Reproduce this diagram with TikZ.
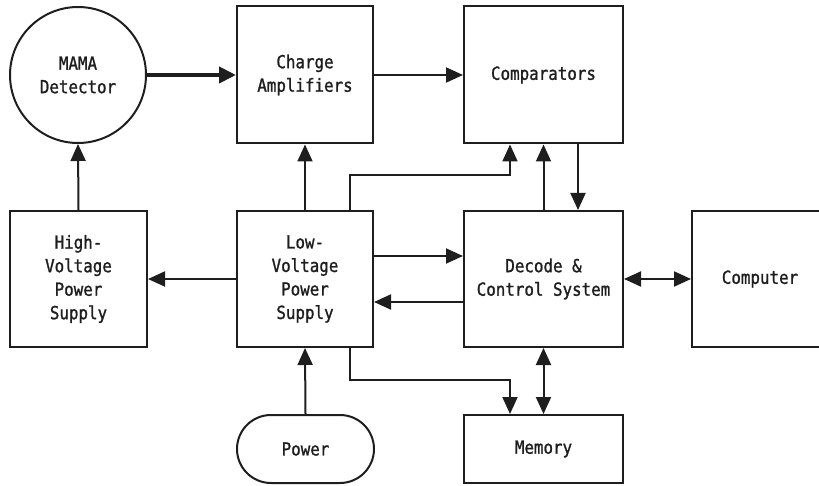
\documentclass[tikz,border=0pt]{standalone}
\usepackage{fontspec}
\newfontfamily\diagfont{DejaVu Sans Mono}[FakeStretch=0.88,FakeBold=1.2]
\usetikzlibrary{arrows.meta,shapes.misc}
\definecolor{ink}{HTML}{1E1E1E}
\begin{document}
\begin{tikzpicture}[x=1pt,y=-1pt,
  every node/.style={font=\diagfont\fontsize{18}{23.5}\selectfont, text=ink, align=center},
  blk/.style={draw=ink, line width=2pt, rectangle, inner sep=0pt},
  arr/.style={draw=ink, line width=2pt, -{Triangle[length=17pt,width=15pt]}},
  darr/.style={draw=ink, line width=2pt, {Triangle[length=17pt,width=15pt]}-{Triangle[length=17pt,width=15pt]}},
  thickarr/.style={draw=ink, line width=4pt, -{Triangle[length=17pt,width=16pt]}}]
\useasboundingbox (0,0) rectangle (819,486);
\clip (0,0) rectangle (819,486);
\node[draw=ink, line width=2pt, circle, minimum size=136pt, inner sep=0pt] (mama) at (78,75) {MAMA\\Detector};
\node[blk, minimum width=136pt, minimum height=137pt] (amp) at (305,75) {Charge\\Amplifiers};
\node[blk, minimum width=159pt, minimum height=137pt] (comp) at (543.5,75) {Comparators};
\node[blk, minimum width=137pt, minimum height=136pt] (hv) at (78.5,279) {High-\\Voltage\\Power\\Supply};
\node[blk, minimum width=136pt, minimum height=136pt] (lv) at (305,279) {Low-\\Voltage\\Power\\Supply};
\node[blk, minimum width=159pt, minimum height=136pt] (dec) at (543.5,279) {Decode \&\\Control System};
\node[blk, minimum width=136pt, minimum height=136pt] (pc) at (760,279) {Computer};
\node[blk, minimum width=159pt, minimum height=68pt] (mem) at (543.5,449) {Memory};
\node[draw=ink, line width=2pt, rounded rectangle, minimum width=137pt, minimum height=68pt, inner sep=0pt] (pow) at (305.5,449) {Power};
% connectors
\draw[thickarr] (mama.east) -- (amp.west);
\draw[arr] (amp.east) -- (comp.west);
\draw[arr] (hv.north) -- (mama.south);
\draw[arr] (lv.north) -- (amp.south);
\draw[arr] (lv.west) -- (hv.east);
\draw[arr] (pow.north) -- (lv.south);
\draw[arr] ([xshift=45pt]lv.north) -- ++(0,-35) -| ([xshift=-33.5pt]comp.south);
\draw[arr] (dec.north) -- (comp.south);
\draw[arr] ([xshift=34.5pt]comp.south) -- ([xshift=34.5pt]comp.south |- dec.north);
\draw[arr] ([yshift=23pt]lv.east) -- ([yshift=23pt]lv.east -| dec.west);
\draw[arr] ([yshift=-23pt]dec.west) -- ([yshift=-23pt]dec.west -| lv.east);
\draw[darr] (dec.east) -- (pc.west);
\draw[darr] (dec.south) -- (mem.north);
\draw[arr] ([xshift=45pt]lv.south) -- ++(0,32) -| ([xshift=-33.5pt]mem.north);
\end{tikzpicture}
\end{document}
